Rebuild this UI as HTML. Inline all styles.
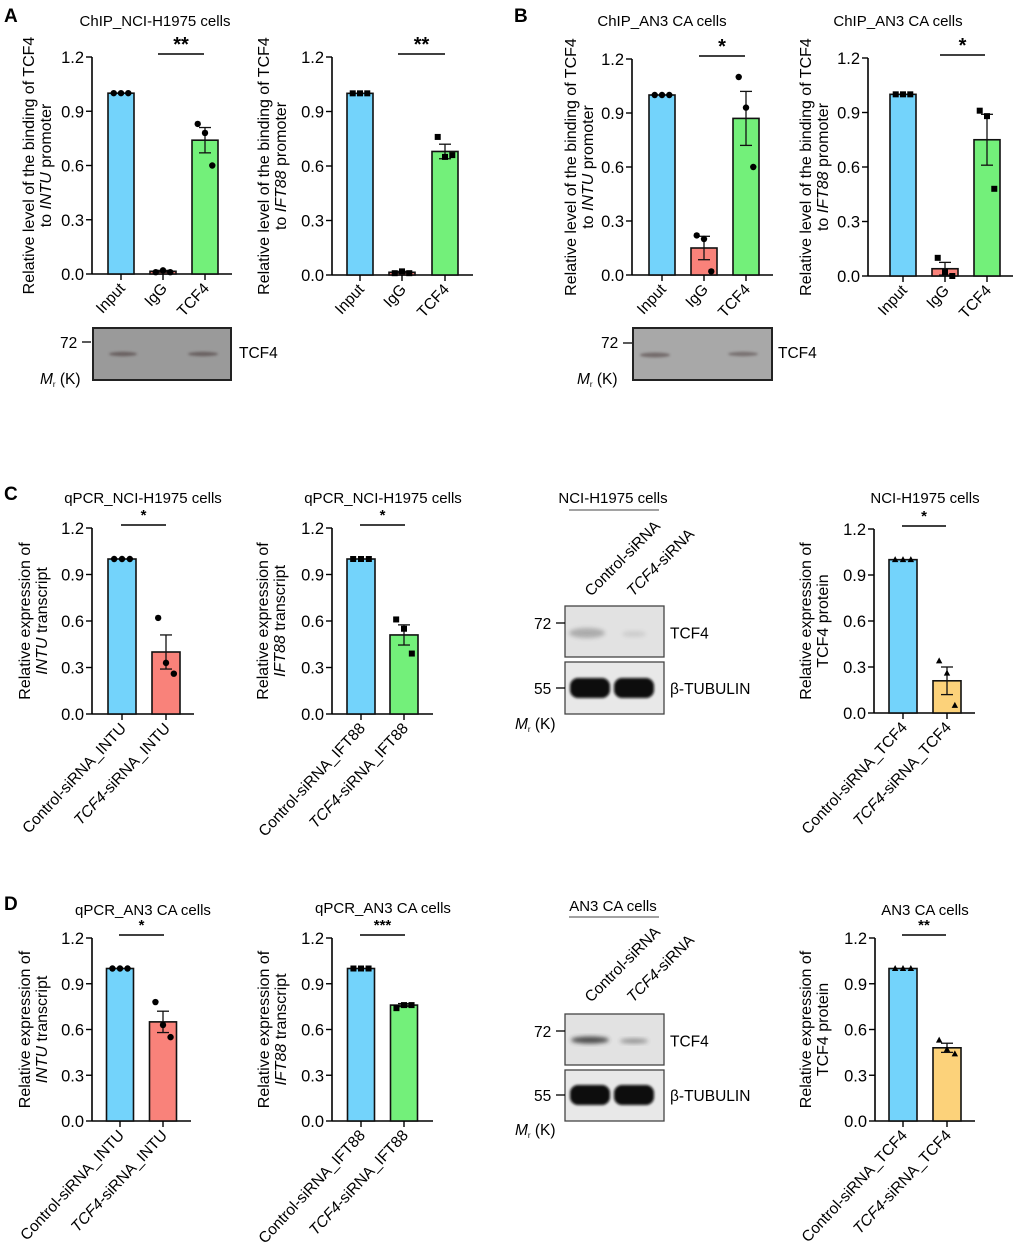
<!DOCTYPE html>
<html><head><meta charset="utf-8"><style>
body{margin:0;background:#fff}
svg{display:block;font-family:"Liberation Sans",Arial,sans-serif}
</style></head><body>
<svg id="fig" width="1020" height="1242" viewBox="0 0 1020 1242" xmlns="http://www.w3.org/2000/svg">
<defs>
<filter id="blur2" x="-50%" y="-50%" width="200%" height="200%"><feGaussianBlur stdDeviation="2"/></filter>
<filter id="blur1" x="-50%" y="-50%" width="200%" height="200%"><feGaussianBlur stdDeviation="1.2"/></filter>
</defs>
<g font-weight="bold" font-size="19">
<text x="4" y="22">A</text>
<text x="514" y="22">B</text>
<text x="4" y="500">C</text>
<text x="4" y="910">D</text>
</g>
<g font-size="15" text-anchor="middle">
<text x="155" y="26">ChIP_NCI-H1975 cells</text>
<text x="662" y="26">ChIP_AN3 CA cells</text>
<text x="898" y="26">ChIP_AN3 CA cells</text>
<text x="143" y="503">qPCR_NCI-H1975 cells</text>
<text x="383" y="503">qPCR_NCI-H1975 cells</text>
<text x="613" y="503">NCI-H1975 cells</text>
<text x="925" y="503">NCI-H1975 cells</text>
<text x="143" y="915">qPCR_AN3 CA cells</text>
<text x="383" y="913">qPCR_AN3 CA cells</text>
<text x="613" y="911">AN3 CA cells</text>
<text x="925" y="915">AN3 CA cells</text>
</g>
<g id="charts"></g>
<g id="blots"></g>
</svg>
<script>
// ---- data arrays ----
const chipCats = ["Input","IgG","TCF4"];
const kdCatsIntu = ["Control-siRNA_INTU","TCF4-siRNA_INTU"];
const kdCatsIft = ["Control-siRNA_IFT88","TCF4-siRNA_IFT88"];
const kdCatsTcf = ["Control-siRNA_TCF4","TCF4-siRNA_TCF4"];
const yTicks = [0.0,0.3,0.6,0.9,1.2];
const yTickLabels = ["0.0","0.3","0.6","0.9","1.2"];

const a1Means=[1.0,0.015,0.74], a1Err=[0,0.005,0.07], a1Pts=[[1,1,1],[0.01,0.02,0.01],[0.83,0.78,0.60]];
const a2Means=[1.0,0.015,0.68], a2Err=[0,0.005,0.04], a2Pts=[[1,1,1],[0.01,0.02,0.01],[0.76,0.65,0.66]];
const b1Means=[1.0,0.15,0.87], b1Err=[0,0.065,0.15], b1Pts=[[1,1,1],[0.22,0.20,0.02],[1.10,0.93,0.60]];
const b2Means=[1.0,0.04,0.75], b2Err=[0,0.035,0.14], b2Pts=[[1,1,1],[0.10,0.02,0.00],[0.91,0.88,0.48]];
const c1Means=[1.0,0.40], c1Err=[0,0.11], c1Pts=[[1,1,1],[0.62,0.33,0.26]];
const c2Means=[1.0,0.51], c2Err=[0,0.065], c2Pts=[[1,1,1],[0.61,0.55,0.39]];
const c4Means=[1.0,0.21], c4Err=[0,0.09], c4Pts=[[1,1,1],[0.34,0.26,0.05]];
const d1Means=[1.0,0.65], d1Err=[0,0.07], d1Pts=[[1,1,1],[0.78,0.63,0.55]];
const d2Means=[1.0,0.76], d2Err=[0,0.01], d2Pts=[[1,1,1],[0.74,0.76,0.76]];
const d4Means=[1.0,0.48], d4Err=[0,0.03], d4Pts=[[1,1,1],[0.53,0.47,0.44]];

const NS="http://www.w3.org/2000/svg";
function mk(tag,attrs,parent){const e=document.createElementNS(NS,tag);for(const k in attrs)e.setAttribute(k,attrs[k]);parent.appendChild(e);return e;}
const root=document.getElementById('charts');

function chart(o){
  const g=mk('g',{},root);
  
  
  const y=v=>o.y0-(v/1.2)*(o.y0-o.y1);
  const ax=mk('line',{x1:o.ax,y1:o.y1,x2:o.ax,y2:o.y0,stroke:'#000','stroke-width':1.6},g);
  
  
  const xa=mk('line',{x1:o.ax,y1:o.y0,x2:o.xend,y2:o.y0,stroke:'#000','stroke-width':1.6},g);
  
  
  yTicks.forEach((t,i)=>{
    mk('line',{x1:o.ax-6,y1:y(t),x2:o.ax,y2:y(t),stroke:'#000','stroke-width':1.4},g);
    const tx=mk('text',{x:o.ax-8,y:y(t)+6,'font-size':16.5,'text-anchor':'end'},g);
    tx.textContent=yTickLabels[i];
    
    
  });
  o.cats.forEach((c,i)=>{
    const cx=o.cx[i], m=o.means[i];
    const b=mk('rect',{x:cx-o.bw/2,y:y(m),width:o.bw,height:o.y0-y(m),fill:o.colors[i],stroke:'#111','stroke-width':1.6},g);
    
    
    mk('line',{x1:cx,y1:o.y0,x2:cx,y2:o.y0+6,stroke:'#000','stroke-width':1.4},g);
    const e=o.err[i];
    if(e>0.004){
      mk('line',{x1:cx,y1:y(m-e),x2:cx,y2:y(m+e),stroke:'#111','stroke-width':1.3},g);
      mk('line',{x1:cx-6,y1:y(m+e),x2:cx+6,y2:y(m+e),stroke:'#111','stroke-width':1.3},g);
      mk('line',{x1:cx-6,y1:y(m-e),x2:cx+6,y2:y(m-e),stroke:'#111','stroke-width':1.3},g);
    }
    o.pts[i].forEach((p,j)=>{
      const px=cx+(j-1)*(o.bw*0.28), py=y(p);
      let d;
      if(o.marker==='sq') d=mk('rect',{x:px-3,y:py-3,width:6,height:6,fill:'#000'},g);
      else if(o.marker==='tri') d=mk('polygon',{points:`${px},${py-3.5} ${px+3.2},${py+2.5} ${px-3.2},${py+2.5}`,fill:'#000'},g);
      else d=mk('circle',{cx:px,cy:py,r:3.2,fill:'#000'},g);
      
      
    });
    const lx=cx+5, ly=o.y0+15;
    const t=mk('text',{x:lx,y:ly,'font-size':15.5,'text-anchor':'end',transform:`rotate(-47 ${lx} ${ly})`},g);
    
    
    if(c.startsWith('TCF4-')){const s=mk('tspan',{'font-style':'italic'},t);s.textContent='TCF4';const r=mk('tspan',{},t);r.textContent=c.slice(4);}
    else t.textContent=c;
  });
  const sy=o.y1-3;
  const sl=mk('line',{x1:o.sig[0],y1:sy,x2:o.sig[1],y2:sy,stroke:'#000','stroke-width':1.6},g);
  
  
  const big=o.big;
  const st=mk('text',{x:(o.sig[0]+o.sig[1])/2,y:sy-(big?3:5),'font-size':big?20:15,'font-weight':'bold','text-anchor':'middle'},g);
  st.textContent=o.star;
  
  
  const ty=(o.y0+o.y1)/2;
  const yt=mk('text',{'font-size':16,'text-anchor':'middle',transform:`translate(${o.tx} ${ty}) rotate(-90)`},g);
  
  
  const l1=mk('tspan',{x:0,y:0},yt); l1.textContent=o.t1;
  const l2=mk('tspan',{x:0,y:17},yt);
  o.t2.forEach(p=>{const s=mk('tspan',p[1]?{'font-style':'italic'}:{},l2);s.textContent=p[0];});
}
const BL='#73d3fb',GR='#73f07a',RD='#f9827a',OR='#fcd27a';
const chipT1="Relative level of the binding of TCF4";
const expT="Relative expression of";
chart({name:'chart-a-intu',cats:chipCats,means:a1Means,err:a1Err,pts:a1Pts,ax:92,y1:57,y0:274,xend:232,cx:[121,163,205],bw:26,colors:[BL,RD,GR],marker:'c',sig:[158,204],star:'**',big:1,tx:34,t1:chipT1,t2:[["to "],["INTU",1],[" promoter"]]});
chart({name:'chart-a-ift88',cats:chipCats,means:a2Means,err:a2Err,pts:a2Pts,ax:332,y1:57,y0:275,xend:473,cx:[360,402,445],bw:26,colors:[BL,RD,GR],marker:'sq',sig:[398,445],star:'**',big:1,tx:269,t1:chipT1,t2:[["to "],["IFT88",1],[" promoter"]]});
chart({name:'chart-b-intu',cats:chipCats,means:b1Means,err:b1Err,pts:b1Pts,ax:632,y1:59,y0:275,xend:773,cx:[662,704,746],bw:26,colors:[BL,RD,GR],marker:'c',sig:[699,745],star:'*',big:1,tx:576,t1:chipT1,t2:[["to "],["INTU",1],[" promoter"]]});
chart({name:'chart-b-ift88',cats:chipCats,means:b2Means,err:b2Err,pts:b2Pts,ax:868,y1:58,y0:276,xend:1013,cx:[903,945,987],bw:26,colors:[BL,RD,GR],marker:'sq',sig:[940,985],star:'*',big:1,tx:811,t1:chipT1,t2:[["to "],["IFT88",1],[" promoter"]]});
chart({name:'chart-c-intu',cats:kdCatsIntu,means:c1Means,err:c1Err,pts:c1Pts,ax:92,y1:528,y0:714,xend:194,cx:[122,166],bw:28,colors:[BL,RD],marker:'c',sig:[121,166],star:'*',tx:30,t1:expT,t2:[["INTU",1],[" transcript"]]});
chart({name:'chart-c-ift88',cats:kdCatsIft,means:c2Means,err:c2Err,pts:c2Pts,ax:332,y1:528,y0:714,xend:433,cx:[361,404],bw:28,colors:[BL,GR],marker:'sq',sig:[360,405],star:'*',tx:268,t1:expT,t2:[["IFT88",1],[" transcript"]]});
chart({name:'chart-c-protein',cats:kdCatsTcf,means:c4Means,err:c4Err,pts:c4Pts,ax:874,y1:529,y0:713,xend:975,cx:[903,947],bw:28,colors:[BL,OR],marker:'tri',sig:[902,946],star:'*',tx:811,t1:expT,t2:[["TCF4 protein"]]});
chart({name:'chart-d-intu',cats:kdCatsIntu,means:d1Means,err:d1Err,pts:d1Pts,ax:92,y1:938,y0:1121,xend:191,cx:[120,163],bw:27,colors:[BL,RD],marker:'c',sig:[119,164],star:'*',tx:30,t1:expT,t2:[["INTU",1],[" transcript"]]});
chart({name:'chart-d-ift88',cats:kdCatsIft,means:d2Means,err:d2Err,pts:d2Pts,ax:332,y1:938,y0:1121,xend:433,cx:[361,404],bw:27,colors:[BL,GR],marker:'sq',sig:[360,405],star:'***',tx:269,t1:expT,t2:[["IFT88",1],[" transcript"]]});
chart({name:'chart-d-protein',cats:kdCatsTcf,means:d4Means,err:d4Err,pts:d4Pts,ax:875,y1:938,y0:1121,xend:975,cx:[903,947],bw:28,colors:[BL,OR],marker:'tri',sig:[902,946],star:'**',tx:811,t1:expT,t2:[["TCF4 protein"]]});

// ---- blots ----
const broot=document.getElementById('blots');
function txt(x,y,s,attrs,name){const t=mk('text',Object.assign({x:x,y:y,'font-size':15.5},attrs||{}),broot);t.textContent=s;return t;}
function mr(x,y){const t=mk('text',{x:x,y:y,'font-size':15.5},broot);const a=mk('tspan',{'font-style':'italic'},t);a.textContent='M';const b=mk('tspan',{'font-size':8,dy:3},t);b.textContent='r';const c=mk('tspan',{dy:-3},t);c.textContent=' (K)';}
function chipBlot(x,y,w,h,bands,name,fill){
  const r=mk('rect',{x:x,y:y,width:w,height:h,fill:fill,stroke:'#222','stroke-width':2},broot);
  
  bands.forEach(b=>{const e=mk('ellipse',{cx:b[0],cy:b[1],rx:b[2],ry:b[3],fill:'#4a3a3a',opacity:b[4],filter:'url(#blur1)'},broot);});
}
chipBlot(93,328,138,52,[[123,354,14,2.2,0.6],[203,354,15,2.2,0.6]],'blot-a','#9a9a9a');
mk('line',{x1:82,y1:342,x2:91,y2:342,stroke:'#000','stroke-width':1.3},broot);
txt(60,348,'72',{},'mw-72');txt(239,358,'TCF4',{},'blot-label-tcf4');mr(40,384);
chipBlot(633,328,139,52,[[655,355,15,2.5,0.55],[743,354,15,2.2,0.5]],'blot-b','#a8a8a8');
mk('line',{x1:623,y1:343,x2:632,y2:343,stroke:'#000','stroke-width':1.3},broot);
txt(601,348,'72',{},'mw-72');txt(778,358,'TCF4',{},'blot-label-tcf4');mr(577,384);
function wb(y1,y2,h1,h2,top,bands1,tubY,lineY,mrY){
  mk('line',{x1:569,y1:lineY,x2:659,y2:lineY,stroke:'#444','stroke-width':1},broot);
  txt(591,top,'Control-siRNA',{transform:`rotate(-45 591 ${top})`,'font-size':15.5},'lane-label-control');
  const l2=mk('text',{x:633,y:top,'font-size':15.5,transform:`rotate(-45 633 ${top})`},broot);
  
  const s=mk('tspan',{'font-style':'italic'},l2);s.textContent='TCF4';const s2=mk('tspan',{},l2);s2.textContent='-siRNA';
  const r1=mk('rect',{x:565,y:y1,width:99,height:h1,fill:'#e2e2e2',stroke:'#444','stroke-width':1.3},broot);
  
  bands1.forEach(b=>{const e=mk('ellipse',{cx:b[0],cy:b[1],rx:b[2],ry:b[3],fill:'#333',opacity:b[4],filter:'url(#blur2)'},broot);});
  const r2=mk('rect',{x:565,y:y2,width:99,height:h2,fill:'#e8e8e8',stroke:'#444','stroke-width':1.3},broot);
  
  [590,634].forEach(cx=>{const e=mk('rect',{x:cx-20,y:tubY-10,width:40,height:20,rx:8,fill:'#080808',filter:'url(#blur1)'},broot);});
  const t72=y1+17, t55=tubY;
  mk('line',{x1:556,y1:t72,x2:565,y2:t72,stroke:'#000','stroke-width':1.3},broot);
  mk('line',{x1:556,y1:t55,x2:565,y2:t55,stroke:'#000','stroke-width':1.3},broot);
  txt(534,t72+6,'72',{},'mw-72');txt(534,t55+6,'55',{},'mw-55');
  txt(670,y1+h1/2+7,'TCF4',{},'blot-label-tcf4');txt(670,t55+6,'β-TUBULIN',{},'blot-label-tubulin');
  mr(515,mrY);
}
wb(606,662,51,52,597,[[587,633,18,5,0.3],[634,634,12,3,0.12]],688,510,729);
wb(1014,1070,51,51,1003,[[590,1040,19,3.5,0.85],[634,1041,14,2.5,0.45]],1095,917,1135);
</script>
</body></html>
